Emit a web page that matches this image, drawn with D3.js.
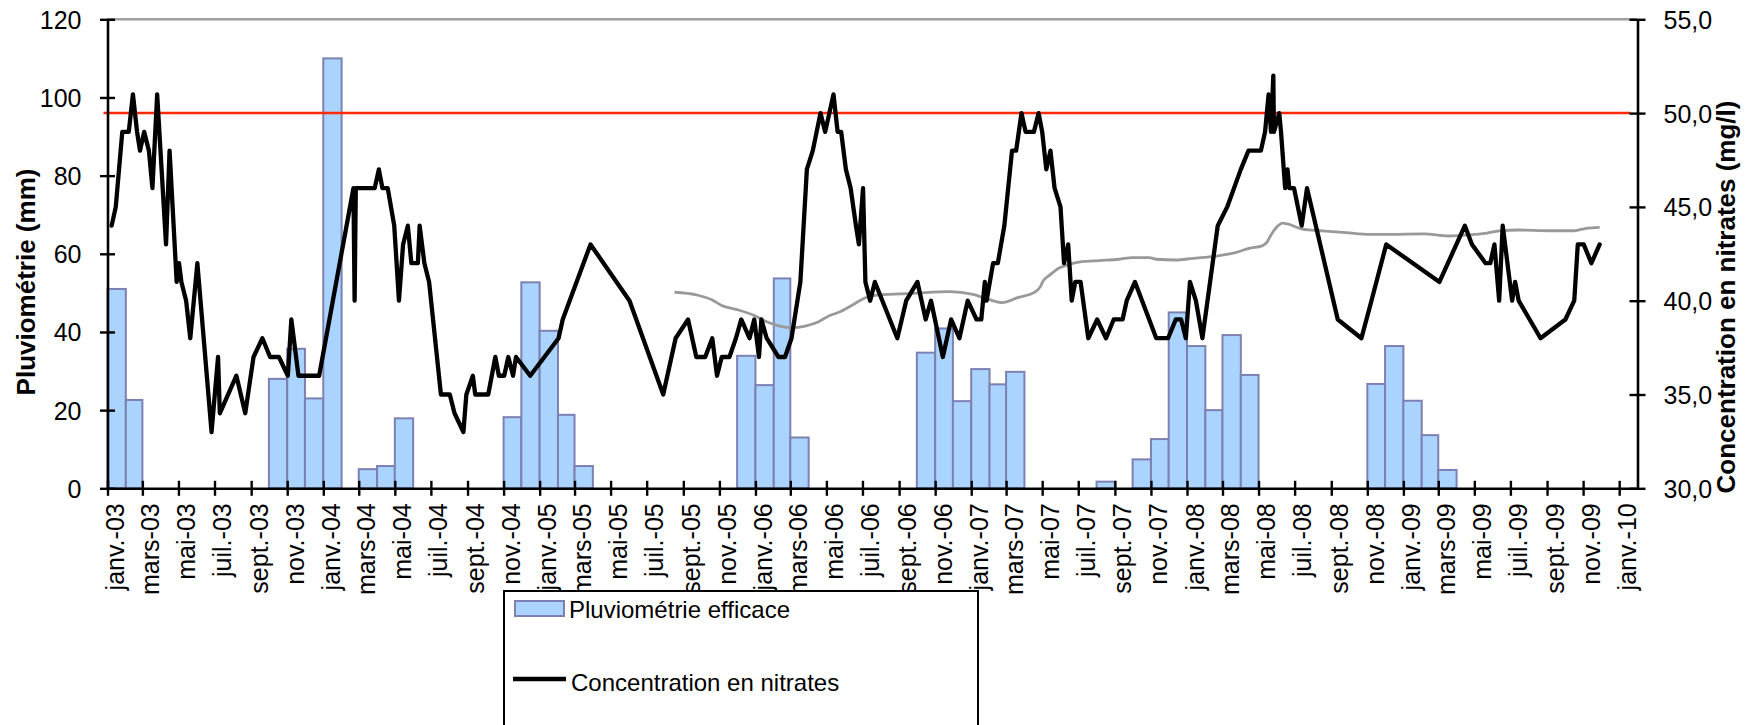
<!DOCTYPE html>
<html><head><meta charset="utf-8">
<script src="https://cdn.jsdelivr.net/npm/d3@7"></script>
<style>
html,body{margin:0;padding:0;background:#fff;}
svg{display:block;}
text{font-family:"Liberation Sans",Arial,sans-serif;fill:#000;}
</style></head>
<body><svg id="chart" width="1748" height="725"></svg>
<script>
// ---------- DATA ----------
const monthNames = ["janv.","févr.","mars","avr.","mai","juin","juil.","août","sept.","oct.","nov.","déc."];
const rainMonths = ["2003-01","2003-02","2003-10","2003-11","2003-12","2004-01","2004-03","2004-04","2004-05",
  "2004-11","2004-12","2005-01","2005-02","2005-03","2005-12","2006-01","2006-02","2006-03",
  "2006-10","2006-11","2006-12","2007-01","2007-02","2007-03","2007-08","2007-10","2007-11","2007-12",
  "2008-01","2008-02","2008-03","2008-04","2008-11","2008-12","2009-01","2009-02","2009-03"];
const rainValues = [51,22.6,28,35.7,23,110,4.9,5.7,17.9,
  18.2,52.7,40.3,18.8,5.7,33.9,26.4,53.7,13.0,
  34.7,40.9,22.3,30.5,26.6,29.8,1.7,7.4,12.6,45.0,
  36.4,20.0,39.2,29.0,26.7,36.4,22.4,13.6,4.7];

const nitrateDates = ["2003-01-08","2003-01-15","2003-01-26","2003-02-06","2003-02-13","2003-02-20","2003-02-25","2003-03-04","2003-03-12","2003-03-18",
  "2003-03-26","2003-04-10","2003-04-16","2003-04-28","2003-05-02","2003-05-06","2003-05-14","2003-05-21","2003-06-02","2003-06-26",
  "2003-07-07","2003-07-10","2003-08-07","2003-08-22","2003-09-05","2003-09-20","2003-10-03","2003-10-18","2003-11-02","2003-11-08",
  "2003-11-20","2003-12-25","2004-02-21","2004-02-23","2004-02-25","2004-03-28","2004-04-04","2004-04-10","2004-04-19","2004-04-30",
  "2004-05-08","2004-05-15","2004-05-23","2004-05-29","2004-06-09","2004-06-12","2004-06-20","2004-06-28","2004-07-18","2004-08-02",
  "2004-08-10","2004-08-25","2004-08-30","2004-09-10","2004-09-14","2004-10-06","2004-10-18","2004-10-24","2004-11-02","2004-11-09",
  "2004-11-17","2004-11-22","2004-12-16","2005-02-02","2005-02-09","2005-03-28","2005-06-02","2005-07-29","2005-08-19","2005-09-09",
  "2005-09-23","2005-10-08","2005-10-20","2005-10-28","2005-11-05","2005-11-18","2005-11-29","2005-12-08","2005-12-22","2005-12-30",
  "2006-01-07","2006-01-11","2006-01-20","2006-02-09","2006-02-20","2006-03-03","2006-03-18","2006-03-29","2006-04-08","2006-04-21",
  "2006-04-29","2006-05-13","2006-05-20","2006-05-26","2006-06-03","2006-06-11","2006-06-20","2006-06-25","2006-07-02","2006-07-06",
  "2006-07-14","2006-07-22","2006-08-29","2006-09-13","2006-10-02","2006-10-16","2006-10-25","2006-11-14","2006-11-28","2006-12-12",
  "2006-12-26","2007-01-10","2007-01-18","2007-01-24","2007-01-27","2007-02-07","2007-02-15","2007-02-26","2007-03-11","2007-03-18",
  "2007-03-27","2007-04-03","2007-04-17","2007-04-25","2007-05-01","2007-05-08","2007-05-15","2007-05-22","2007-06-01","2007-06-07",
  "2007-06-14","2007-06-20","2007-06-26","2007-07-05","2007-07-18","2007-08-02","2007-08-17","2007-08-30","2007-09-14","2007-09-21",
  "2007-10-05","2007-11-10","2007-11-30","2007-12-13","2007-12-22","2007-12-30","2008-01-06","2008-01-16","2008-01-27","2008-02-22",
  "2008-03-09","2008-04-01","2008-04-14","2008-05-05","2008-05-12","2008-05-18","2008-05-22","2008-05-26","2008-05-27","2008-06-05",
  "2008-06-08","2008-06-15","2008-06-19","2008-06-22","2008-06-30","2008-07-13","2008-07-22","2008-09-12","2008-10-22","2008-11-08",
  "2008-12-03","2009-03-03","2009-04-15","2009-04-27","2009-05-20","2009-05-28","2009-06-04","2009-06-12","2009-06-18","2009-07-04",
  "2009-07-09","2009-07-15","2009-08-21","2009-10-02","2009-10-17","2009-10-23","2009-11-02","2009-11-15","2009-11-29"];
const nitrateValues = [44,45,49,49,51,49,48,49,48,46,
  51,43,48,41,42,41,40,38,42,33,
  37,34,36,34,37,38,37,37,36,39,
  36,36,46,40,46,46,47,46,46,44,
  40,43,44,42,42,44,42,41,35,35,
  34,33,35,36,35,35,37,36,36,37,
  36,37,36,38,39,43,40,35,38,39,
  37,37,38,36,37,37,38,39,38,39,
  37,39,38,37,37,38,41,47,48,50,
  49,51,49,49,47,46,44,43,46,41,
  40,41,38,40,41,39,40,37,39,38,
  40,39,39,41,40,42,42,44,48,48,
  50,49,49,50,49,47,48,46,45,42,
  43,40,41,41,38,39,38,39,39,40,
  41,38,38,39,39,38,41,40,38,44,
  45,47,48,48,49,51,49,52,49,50,
  49,46,47,46,46,44,46,39,38,40,
  43,41,44,43,42,42,43,40,44,40,
  41,40,38,39,40,43,43,42,43];

const trendDates = ["2005-08-17","2005-09-23","2005-10-20","2005-11-05","2005-11-29","2005-12-28","2006-01-20","2006-02-11","2006-03-04","2006-03-26",
  "2006-04-18","2006-05-05","2006-05-22","2006-06-14","2006-07-06","2006-07-29","2006-09-24","2006-11-25","2007-01-04","2007-02-02",
  "2007-02-22","2007-03-22","2007-04-17","2007-04-28","2007-05-03","2007-05-12","2007-05-29","2007-06-18","2007-07-07","2007-08-05",
  "2007-09-08","2007-10-01","2007-10-29","2007-11-10","2007-12-13","2008-01-11","2008-02-19","2008-03-23","2008-04-15","2008-05-07",
  "2008-05-16","2008-05-22","2008-05-30","2008-06-11","2008-06-19","2008-07-14","2008-08-17","2008-09-26","2008-11-05","2008-12-09",
  "2009-02-04","2009-03-18","2009-04-16","2009-05-20","2009-06-12","2009-07-15","2009-09-05","2009-10-17","2009-11-06","2009-11-29"];
const trendValues = [40.45,40.31,40.04,39.74,39.54,39.24,38.88,38.65,38.56,38.65,
  38.88,39.19,39.38,39.77,40.16,40.31,40.39,40.48,40.34,40.04,
  39.9,40.18,40.43,40.75,41.07,41.32,41.73,41.96,42.08,42.14,
  42.21,42.3,42.3,42.21,42.17,42.26,42.38,42.56,42.79,42.92,
  43.15,43.5,43.86,44.13,44.09,43.81,43.72,43.63,43.54,43.54,
  43.56,43.45,43.5,43.59,43.72,43.77,43.73,43.73,43.86,43.91];

const limitValue = 50;
const leftTicks = [0,20,40,60,80,100,120];
const rightTicks = [30,35,40,45,50,55];
const seriesNames = ["Pluviométrie efficace","Concentration en nitrates"];
const leftTitle = "Pluviométrie (mm)";
const rightTitle = "Concentration en nitrates (mg/l)";

// ---------- CHART ----------
const svg = d3.select("#chart");
const parseDay = d3.timeParse("%Y-%m-%d");
const parseMonth = d3.timeParse("%Y-%m");
const L = 107.5, R = 1637.5, T = 19.3, B = 488.3;

const x = d3.scaleTime().domain([new Date(2003,0,1), new Date(2010,1,1)]).range([L, R]);
const yL = d3.scaleLinear().domain([0,120]).range([B, T]);
const yR = d3.scaleLinear().domain([30,55]).range([B, T]);

svg.append("rect").attr("width",1748).attr("height",725).attr("fill","#fff");

// top border line
svg.append("line").attr("x1",L).attr("x2",R).attr("y1",yL(120)).attr("y2",yL(120))
  .attr("stroke","#a0a0a0").attr("stroke-width",2.5);

// bars
const rain = rainMonths.map((m,i)=>({d:parseMonth(m), v:rainValues[i]}));
svg.append("g").selectAll("rect").data(rain).join("rect")
  .attr("x", d=>x(d.d))
  .attr("width", d=>x(d3.timeMonth.offset(d.d,1))-x(d.d))
  .attr("y", d=>yL(d.v))
  .attr("height", d=>yL(0)-yL(d.v))
  .attr("fill","#aad4fd").attr("stroke","#7d80b3").attr("stroke-width",2);

// limit line
svg.append("line").attr("x1",L-4).attr("x2",R-7).attr("y1",yR(limitValue)).attr("y2",yR(limitValue))
  .attr("stroke","#ff2a00").attr("stroke-width",2.5);

// trend line
const trend = trendDates.map((d,i)=>({d:parseDay(d), v:trendValues[i]}));
svg.append("path").datum(trend)
  .attr("d", d3.line().x(d=>x(d.d)).y(d=>yR(d.v)).curve(d3.curveMonotoneX))
  .attr("fill","none").attr("stroke","#999999").attr("stroke-width",2.8).attr("stroke-linejoin","round");

// nitrate line
const nit = nitrateDates.map((d,i)=>({d:parseDay(d), v:nitrateValues[i]}));
svg.append("path").datum(nit)
  .attr("d", d3.line().x(d=>x(d.d)).y(d=>yR(d.v)))
  .attr("fill","none").attr("stroke","#000").attr("stroke-width",4.3)
  .attr("stroke-linejoin","round").attr("stroke-linecap","round");

// x axis
const xTicks = d3.timeMonth.every(2).range(new Date(2003,0,1), new Date(2010,0,2));
const fmtX = d => monthNames[d.getMonth()] + "-" + d3.timeFormat("%y")(d);
const gx = svg.append("g").attr("transform",`translate(0,${B})`)
  .call(d3.axisBottom(x).tickValues(xTicks).tickFormat(fmtX).tickSizeOuter(0));
gx.select(".domain").attr("stroke","#000").attr("stroke-width",2.6);
gx.selectAll(".tick line").attr("y1",-7.5).attr("y2",7.5).attr("stroke","#000").attr("stroke-width",2.4);
gx.selectAll(".tick text").attr("transform","rotate(-90)").attr("text-anchor","end")
  .attr("x",-15).attr("y",16).attr("dy",null).attr("font-size",25)
  .style("font-family",'"Liberation Sans",Arial,sans-serif').attr("fill","#000");

// left axis
const gl = svg.append("g").attr("transform",`translate(${L},0)`)
  .call(d3.axisLeft(yL).tickValues(leftTicks).tickSizeOuter(0));
gl.select(".domain").attr("stroke","#000").attr("stroke-width",2.6);
gl.selectAll(".tick line").attr("x1",-7.5).attr("x2",7.5).attr("stroke","#000").attr("stroke-width",2.4);
gl.selectAll(".tick text").attr("x",-26).attr("dy","0.36em").attr("font-size",25)
  .style("font-family",'"Liberation Sans",Arial,sans-serif').attr("fill","#000");

// right axis
const fmtR = d => d3.format(".1f")(d).replace(".",",");
const gr = svg.append("g").attr("transform",`translate(${R},0)`)
  .call(d3.axisRight(yR).tickValues(rightTicks).tickFormat(fmtR).tickSizeOuter(0));
gr.select(".domain").attr("stroke","#000").attr("stroke-width",2.6);
gr.selectAll(".tick line").attr("x1",-8).attr("x2",8).attr("stroke","#000").attr("stroke-width",2.4);
gr.selectAll(".tick text").attr("x",26).attr("dy","0.36em").attr("font-size",25)
  .style("font-family",'"Liberation Sans",Arial,sans-serif').attr("fill","#000");

// axis titles
svg.append("text").attr("transform","translate(35,282) rotate(-90)")
  .attr("text-anchor","middle").attr("font-size",26).attr("font-weight","bold").text(leftTitle);
svg.append("text").attr("transform","translate(1735,297) rotate(-90)")
  .attr("text-anchor","middle").attr("font-size",26).attr("font-weight","bold").text(rightTitle);

// legend
const lg = svg.append("g");
lg.append("rect").attr("x",504).attr("y",591).attr("width",474).attr("height",200)
  .attr("fill","#fff").attr("stroke","#000").attr("stroke-width",2);
lg.append("rect").attr("x",515).attr("y",601).attr("width",49).attr("height",15)
  .attr("fill","#aad4fd").attr("stroke","#7d80b3").attr("stroke-width",2);
lg.append("text").attr("x",569).attr("y",609).attr("dy","0.36em").attr("font-size",24).text(seriesNames[0]);
lg.append("line").attr("x1",513).attr("x2",566).attr("y1",679).attr("y2",679)
  .attr("stroke","#000").attr("stroke-width",4.3);
lg.append("text").attr("x",571).attr("y",682).attr("dy","0.36em").attr("font-size",24).text(seriesNames[1]);
</script></body></html>
